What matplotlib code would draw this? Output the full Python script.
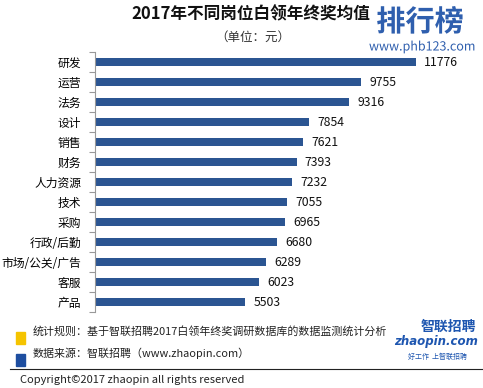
import matplotlib
matplotlib.use("Agg")
import matplotlib.pyplot as plt
from matplotlib.patches import Rectangle
import matplotlib.patheffects as pe

plt.rcParams['font.family'] = ['Noto Sans CJK SC', 'DejaVu Sans']

categories = ['研发', '运营', '法务', '设计', '销售', '财务', '人力资源',
              '技术', '采购', '行政/后勤', '市场/公关/广告', '客服', '产品']
values = [11776, 9755, 9316, 7854, 7621, 7393, 7232, 7055, 6965, 6680, 6289, 6023, 5503]

bar_color = '#2b5592'
W, H = 483, 388

fig = plt.figure(figsize=(W / 100, H / 100), dpi=100)
ax = fig.add_axes([95 / W, 1 - 312 / H, 388 / W, 260 / H])

y = list(range(len(categories)))
ax.barh(y, values, height=0.4, color=bar_color)
ax.set_ylim(len(categories) - 0.5, -0.5)
ax.set_xlim(0, 14230)

for yi, v in zip(y, values):
    ax.text(v + 300, yi, str(v), va='center', ha='left', fontsize=8.8, color='#111111')

ax.set_yticks(y)
ax.set_yticklabels(categories, fontsize=8.5)
ax.set_yticks([i - 0.5 for i in range(len(categories) + 1)], minor=True)
ax.tick_params(axis='y', which='major', length=0, pad=10)
ax.tick_params(axis='y', which='minor', length=4, color='#999999', width=0.8)
ax.set_xticks([])
for s in ['top', 'right', 'bottom']:
    ax.spines[s].set_visible(False)
ax.spines['left'].set_color('#999999')
ax.spines['left'].set_linewidth(0.8)

# titles
fig.text(251 / W, 1 - 14 / H, '2017年不同岗位白领年终奖均值', ha='center', va='center',
         fontsize=12, fontweight='bold', color='#111111')
fig.text(253 / W, 1 - 37 / H, '（单位：元）', ha='center', va='center',
         fontsize=9, color='#333333')

# watermark
fig.text(420 / W, 1 - 22 / H, '排行榜', ha='center', va='center', fontsize=21,
         fontweight='bold', style='italic', color='#2f5fae',
         path_effects=[pe.withStroke(linewidth=3, foreground='white')])
fig.text(422 / W, 1 - 47 / H, 'www.phb123.com', ha='center', va='center', fontsize=9,
         color='#2f5fae', path_effects=[pe.withStroke(linewidth=2, foreground='white')])

# footer notes
fig.patches.append(Rectangle((16 / W, 1 - 344 / H), 9 / W, 12 / H, transform=fig.transFigure,
                             color='#f5c400', zorder=3))
fig.patches.append(Rectangle((16 / W, 1 - 366 / H), 9 / W, 12 / H, transform=fig.transFigure,
                             color='#1e4ea0', zorder=3))
fig.text(33 / W, 1 - 331 / H, '统计规则：基于智联招聘2017白领年终奖调研数据库的数据监测统计分析',
         ha='left', va='center', fontsize=7.9, color='#222222')
fig.text(33 / W, 1 - 353 / H, '数据来源：智联招聘（www.zhaopin.com）',
         ha='left', va='center', fontsize=7.9, color='#222222')

# logo
fig.text(476 / W, 1 - 327 / H, '智联招聘', ha='right', va='center', fontsize=10,
         fontweight='bold', style='italic', color='#1e56b0')
fig.text(478 / W, 1 - 342 / H, 'zhaopin.com', ha='right', va='center', fontsize=8.5,
         fontweight='bold', style='italic', color='#1e56b0', family='DejaVu Sans')
fig.text(437 / W, 1 - 357 / H, '好工作  上智联招聘', ha='center', va='center', fontsize=5,
         style='italic', color='#1e56b0')

fig.add_artist(plt.Line2D([10 / W, 1], [1 - 369 / H, 1 - 369 / H], transform=fig.transFigure,
                          color='#222222', linewidth=0.8))
fig.text(20 / W, 1 - 380 / H, 'Copyright©2017 zhaopin all rights reserved', ha='left',
         va='center', fontsize=8, color='#222222')

fig.savefig('out.png', dpi=100)
